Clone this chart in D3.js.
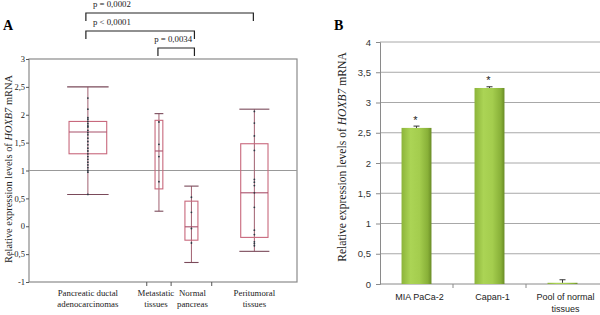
<!DOCTYPE html>
<html>
<head>
<meta charset="utf-8">
<script src="https://cdn.jsdelivr.net/npm/d3@7"></script>
<style>
  body { margin: 0; background: #fff; }
</style>
</head>
<body>
<div id="chart-area"></div>
<script>
var width = 600,
    height = 315;

var SERIF = "'Liberation Serif', 'Times New Roman', Times, serif";
var SANS = "'Liberation Sans', Arial, sans-serif";

// ---- panel A data (box plots) ----
var groupsA = ["Pancreatic ductal|adenocarcinomas", "Metastatic|tissues", "Normal|pancreas", "Peritumoral|tissues"];
var groupN = [29, 6, 10, 21];
var boxStats = [
  // [low whisker, q1, median, q3, high whisker]
  [0.57, 1.30, 1.69, 1.88, 2.50],
  [0.27, 0.67, 1.35, 1.90, 2.02],
  [-0.65, -0.25, -0.01, 0.45, 0.72],
  [-0.45, -0.20, 0.60, 1.48, 2.10]
];
var pointsA = [
  [2.30, 2.10, 1.95, 1.92, 1.88, 1.84, 1.80, 1.78, 1.72, 1.68, 1.64, 1.58, 1.52, 1.46, 1.40, 1.35, 1.30, 1.25, 1.20, 1.15, 1.10, 1.05, 1.00, 0.97, 0.57],
  [1.87, 1.47, 1.25, 0.80],
  [0.52, 0.25, -0.04, -0.30],
  [2.06, 1.85, 1.62, 1.36, 0.84, 0.79, 0.73, 0.60, 0.34, -0.07, -0.15, -0.28, -0.31, -0.35]
];
var yTicksA = [-1, -0.5, 0, 0.5, 1, 1.5, 2, 2.5, 3];
var refLineA = 1;
var brackets = [
  // [from group, to group, label]
  [0, 3, "p = 0,0002"],
  [0, 2, "p < 0,0001"],
  [1, 2, "p = 0,0034"]
];

// ---- panel B data (bars) ----
var cellLines = ["MIA PaCa-2", "Capan-1", "Pool of normal|tissues"];
var expr = [2.58, 3.24, 0.02];
var exprErr = [0.03, 0.02, 0.05];
var starred = [true, true, false];
var yTicksB = [0, 0.5, 1, 1.5, 2, 2.5, 3, 3.5, 4];

var comma = function(v) { return String(v).replace(".", ","); };

var svg = d3.select("#chart-area").append("svg")
    .attr("width", width)
    .attr("height", height);

// ================= PANEL A =================
var gA = svg.append("g");
var yA = d3.scaleLinear().domain([-1, 3]).range([282, 59]);
var cum = [0];
groupN.forEach(function(n, i) { cum.push(cum[i] + n); });
var xA = d3.scaleLinear().domain([0, d3.sum(groupN)]).range([29, 297]);
var centerA = function(i) { return xA(cum[i] + groupN[i] / 2); };
var halfW = function(i) { return (xA(groupN[i]) - xA(0)) * 0.16; };

gA.append("text").attr("x", 3).attr("y", 30).style("font-family", SERIF)
  .style("font-weight", "bold").style("font-size", "14px").text("A");

// frame
gA.append("rect").attr("x", 29).attr("y", yA(3))
  .attr("width", 268).attr("height", yA(-1) - yA(3))
  .attr("fill", "none").attr("stroke", "#8a8a8a").attr("stroke-width", 1.2);

var axA = d3.axisLeft(yA).tickValues(yTicksA).tickSize(3).tickFormat(comma);
gA.append("g").attr("transform", "translate(29,0)").call(axA)
  .call(function(g) {
    g.select(".domain").remove();
    g.selectAll("line").attr("stroke", "#555");
    g.selectAll("text").style("font-size", "8.5px").attr("fill", "#222").attr("x", -4)
      .style("font-family", SERIF);
  });

// group boundary ticks on x
gA.selectAll(".xb").data(cum.slice(1, -1)).enter().append("line")
  .attr("x1", function(d) { return xA(d); }).attr("x2", function(d) { return xA(d); })
  .attr("y1", yA(-1)).attr("y2", yA(-1) + 4).attr("stroke", "#555");

// reference line
gA.append("line").attr("x1", 29).attr("x2", 297)
  .attr("y1", yA(refLineA)).attr("y2", yA(refLineA))
  .attr("stroke", "#999").attr("stroke-width", 1);

var box = gA.selectAll(".box").data(boxStats).enter().append("g");
box.append("line")
  .attr("x1", function(d, i) { return centerA(i); }).attr("x2", function(d, i) { return centerA(i); })
  .attr("y1", function(d) { return yA(d[0]); }).attr("y2", function(d) { return yA(d[4]); })
  .attr("stroke", "#a06070");
[0, 4].forEach(function(k) {
  box.append("line")
    .attr("x1", function(d, i) { return centerA(i) - Math.max(halfW(i), 4) * 1.1; })
    .attr("x2", function(d, i) { return centerA(i) + Math.max(halfW(i), 4) * 1.1; })
    .attr("y1", function(d) { return yA(d[k]); }).attr("y2", function(d) { return yA(d[k]); })
    .attr("stroke", "#7a4a5a").attr("stroke-width", 1.1);
});
box.append("rect")
  .attr("x", function(d, i) { return centerA(i) - halfW(i); })
  .attr("width", function(d, i) { return 2 * halfW(i); })
  .attr("y", function(d) { return yA(d[3]); })
  .attr("height", function(d) { return yA(d[1]) - yA(d[3]); })
  .attr("fill", "none").attr("stroke", "#c8687c").attr("stroke-width", 1.1);
box.append("line")
  .attr("x1", function(d, i) { return centerA(i) - halfW(i); })
  .attr("x2", function(d, i) { return centerA(i) + halfW(i); })
  .attr("y1", function(d) { return yA(d[2]); }).attr("y2", function(d) { return yA(d[2]); })
  .attr("stroke", "#a8506a").attr("stroke-width", 1.1);

pointsA.forEach(function(pts, i) {
  gA.selectAll(".pt" + i).data(pts).enter().append("circle")
    .attr("cx", centerA(i)).attr("cy", function(d) { return yA(d); })
    .attr("r", 0.9).attr("fill", "#2a3a44");
});

// x labels
groupsA.forEach(function(lab, i) {
  var t = gA.append("text").attr("text-anchor", "middle").style("font-family", SERIF)
    .style("font-size", "8.8px").attr("fill", "#222");
  var cx = centerA(i);
  if (i === 1) cx -= 3;
  if (i === 2) cx += 1;
  lab.split("|").forEach(function(s, j) {
    t.append("tspan").attr("x", cx).attr("y", 296 + j * 10.5).text(s);
  });
});

// brackets
var bracketY = [13, 31, 48];
brackets.forEach(function(b, k) {
  var x1 = k === 2 ? centerA(b[0]) - 1 : centerA(b[0]) - 2,
      x2 = centerA(b[1]) + (b[1] === 3 ? -1 : 3),
      y = bracketY[k];
  gA.append("path")
    .attr("d", "M" + x1 + "," + (y + 8) + "V" + y + "H" + x2 + "V" + (y + 8))
    .attr("fill", "none").attr("stroke", "#222").attr("stroke-width", 1.2);
  gA.append("text").attr("x", k === 2 ? (x1 + x2) / 2 - 3 : x1 + 26).attr("y", y - 6)
    .attr("text-anchor", "middle").style("font-family", SERIF)
    .style("font-size", "8.8px").attr("fill", "#222").text(b[2]);
});

// y title A
var tA = gA.append("text").attr("transform", "translate(12,169) rotate(-90)")
  .attr("text-anchor", "middle").style("font-family", SERIF)
  .style("font-size", "10.4px").attr("fill", "#222");
tA.append("tspan").text("Relative expression levels of ");
tA.append("tspan").style("font-style", "italic").text("HOXB7");
tA.append("tspan").text(" mRNA");

// ================= PANEL B =================
var gB = svg.append("g");
var yB = d3.scaleLinear().domain([0, 4]).range([284, 42]);
var xB = d3.scaleBand().domain(cellLines).range([380, 599]).paddingInner(0.59).paddingOuter(0.295);

gB.append("text").attr("x", 334).attr("y", 30).style("font-family", SERIF)
  .style("font-weight", "bold").style("font-size", "14px").text("B");

var grad = svg.append("defs").append("linearGradient").attr("id", "barGrad")
  .attr("x1", "0%").attr("x2", "100%").attr("y1", "0%").attr("y2", "0%");
[["0%", "#8cb43a"], ["30%", "#abd455"], ["60%", "#a4cd4e"], ["88%", "#88b038"], ["100%", "#6a8c26"]]
  .forEach(function(s) { grad.append("stop").attr("offset", s[0]).attr("stop-color", s[1]); });

gB.selectAll(".grid").data(yTicksB.slice(1)).enter().append("line")
  .attr("x1", 380).attr("x2", 600)
  .attr("y1", function(d) { return yB(d); }).attr("y2", function(d) { return yB(d); })
  .attr("stroke", "#a8a8a8").attr("stroke-width", 1);

var axB = d3.axisLeft(yB).tickValues(yTicksB).tickSize(4).tickFormat(comma);
gB.append("g").attr("transform", "translate(380,0)").call(axB)
  .call(function(g) {
    g.select(".domain").attr("stroke", "#8a8a8a");
    g.selectAll("line").attr("stroke", "#8a8a8a");
    g.selectAll("text").style("font-size", "9.5px").attr("fill", "#333").attr("x", -9)
      .style("font-family", SANS);
  });

gB.append("line").attr("x1", 380).attr("x2", 600).attr("y1", yB(0)).attr("y2", yB(0))
  .attr("stroke", "#8a8a8a");
var bounds = cellLines.map(function(c) { return xB(c) - xB.step() * xB.paddingInner() / 2; }).slice(1);
gB.selectAll(".xt").data(bounds).enter().append("line")
  .attr("x1", function(d) { return d; }).attr("x2", function(d) { return d; })
  .attr("y1", yB(0)).attr("y2", yB(0) + 4).attr("stroke", "#8a8a8a");

gB.selectAll(".bar").data(expr).enter().append("rect")
  .attr("x", function(d, i) { return xB(cellLines[i]); })
  .attr("width", xB.bandwidth())
  .attr("y", function(d) { return yB(d); })
  .attr("height", function(d) { return yB(0) - yB(d); })
  .attr("fill", "url(#barGrad)");

// error bars
expr.forEach(function(v, i) {
  var cx = xB(cellLines[i]) + xB.bandwidth() / 2;
  gB.append("line").attr("x1", cx).attr("x2", cx)
    .attr("y1", yB(v)).attr("y2", yB(v + exprErr[i])).attr("stroke", "#333");
  gB.append("line").attr("x1", cx - 3).attr("x2", cx + 3)
    .attr("y1", yB(v + exprErr[i])).attr("y2", yB(v + exprErr[i])).attr("stroke", "#333");
  if (starred[i]) {
    gB.append("text").attr("x", cx - 1).attr("y", yB(v + 0.1) + 2).attr("text-anchor", "middle")
      .style("font-family", SANS).style("font-size", "11px").attr("fill", "#222").text("*");
  }
});

cellLines.forEach(function(c, i) {
  var t = gB.append("text").attr("text-anchor", "middle").style("font-size", "9px").attr("fill", "#222")
    .style("font-family", SANS);
  c.split("|").forEach(function(s, j) {
    t.append("tspan").attr("x", xB(c) + xB.bandwidth() / 2 + 3).attr("y", 300 + j * 12).text(s);
  });
});

var tB = gB.append("text").attr("transform", "translate(346,157) rotate(-90)")
  .attr("text-anchor", "middle").style("font-family", SERIF)
  .style("font-size", "11.6px").attr("fill", "#222");
tB.append("tspan").text("Relative expression levels of ");
tB.append("tspan").style("font-style", "italic").text("HOXB7");
tB.append("tspan").text(" mRNA");
</script>
</body>
</html>
